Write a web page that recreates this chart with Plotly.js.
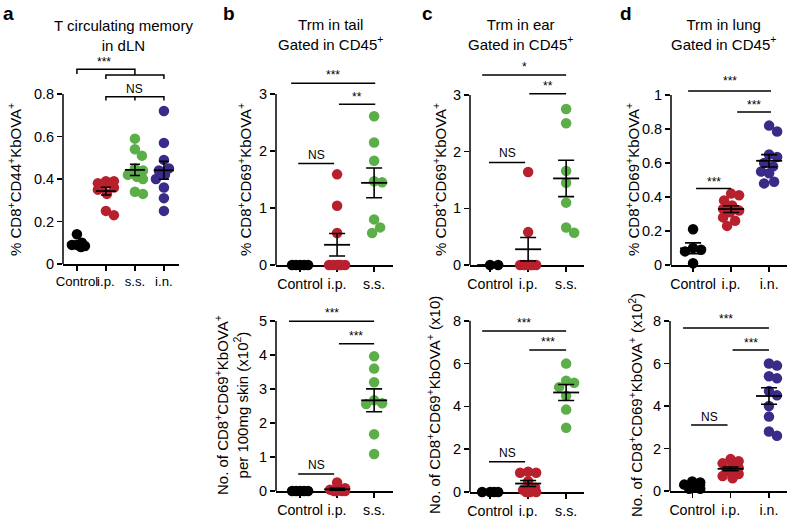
<!DOCTYPE html>
<html><head><meta charset="utf-8">
<script src="https://cdn.plot.ly/plotly-3.0.1.min.js"></script>
<style>html,body{margin:0;padding:0;background:#fff}#chart{width:788px;height:518px}</style>
</head><body><div id="chart"></div>
<script>
// ---------------- data ----------------
const catsA = ['Control', 'i.p.', 's.s.', 'i.n.'];
const catsB = ['Control', 'i.p.', 's.s.'];
const catsC = ['Control', 'i.p.', 's.s.'];
const catsD = ['Control', 'i.p.', 'i.n.'];

// a: T circulating memory in dLN (% CD8+CD44+KbOVA+)
const aControl = [0.09, 0.08, 0.09, 0.10, 0.085, 0.14];
const aIP = [0.39, 0.39, 0.38, 0.38, 0.37, 0.36, 0.35, 0.33, 0.25, 0.23];
const aSS = [0.59, 0.54, 0.51, 0.45, 0.44, 0.42, 0.41, 0.40, 0.34, 0.33];
const aIN = [0.72, 0.57, 0.49, 0.45, 0.44, 0.42, 0.40, 0.36, 0.31, 0.25];

// b: Trm in tail
const bPctControl = [0, 0, 0, 0, 0];
const bPctIP = [1.59, 1.04, 0.56, 0, 0, 0, 0, 0, 0];
const bPctSS = [2.61, 2.15, 1.83, 1.47, 1.45, 0.80, 0.66, 0.56];
const bNumControl = [0, 0, 0, 0, 0];
const bNumIP = [0.25, 0.08, 0.04, 0.02, 0, 0, 0, 0];
const bNumSS = [3.96, 3.60, 3.20, 2.67, 2.58, 2.56, 1.67, 1.09];

// c: Trm in ear
const cPctControl = [0, 0];
const cPctIP = [1.64, 0.58, 0, 0, 0, 0, 0, 0];
const cPctSS = [2.75, 2.50, 1.66, 1.45, 1.10, 0.66, 0.57];
const cNumControl = [0, 0, 0, 0];
const cNumIP = [0.95, 0.90, 0.90, 0.50, 0.20, 0.10, 0, 0, 0];
const cNumSS = [6.0, 5.2, 5.1, 4.9, 4.5, 3.85, 3.0];

// d: Trm in lung
const dPctControl = [0.21, 0.10, 0.09, 0.08, 0.01];
const dPctIP = [0.42, 0.41, 0.38, 0.35, 0.33, 0.32, 0.31, 0.28, 0.26, 0.23];
const dPctIN = [0.82, 0.785, 0.65, 0.635, 0.60, 0.58, 0.55, 0.54, 0.49, 0.48];
const dNumControl = [0.45, 0.40, 0.30, 0.20, 0.10, 0.10];
const dNumIP = [1.5, 1.4, 1.3, 1.2, 1.1, 1.0, 1.0, 0.9, 0.8, 0.7, 0.6];
const dNumIN = [6.0, 5.9, 5.4, 5.3, 4.7, 4.5, 4.0, 3.5, 2.8, 2.6];

// ---------------- styling / layout config ----------------
const W = 788, H = 518;
const FONT = 'Liberation Sans, Arial, Helvetica, sans-serif';
const COL = {'Control': '#000000', 'i.p.': '#b8202e', 's.s.': '#5bae48', 'i.n.': '#3b2a88'};
const DOT = 10.5;

const panels = [
  {cats: catsA, groups: [aControl, aIP, aSS, aIN], px: [63, 179], xr: [-0.48, 3.52], yb: 264, ppu: 212.5, yr: [0, 0.99],
   tv: [0, 0.2, 0.4, 0.6, 0.8], tt: ['0', '0.2', '0.4', '0.6', '0.8'], meanLen: 20, cap: 5, xfs: 13.2,
   lines: [[[0, 0.894], [0, 0.916], [2, 0.916], [2, 0.889]], [[1, 0.871], [1, 0.889], [3, 0.889], [3, 0.871]],
           [[1, 0.769], [1, 0.787], [3, 0.787], [3, 0.769]], [[2, 0.787], [2, 0.769]]],
   texts: [[0.95, 0.95, '***'], [2, 0.822, 'NS']]},
  {cats: catsB, groups: [bPctControl, bPctIP, bPctSS], px: [276, 393], xr: [-0.65, 2.51], yb: 265, ppu: 57, yr: [0, 3.55],
   tv: [0, 1, 2, 3], tt: ['0', '1', '2', '3'], meanLen: 26, cap: 8, xfs: 14.2,
   lines: [[[-0.24, 3.19], [2.03, 3.19]], [[1.05, 2.82], [2.03, 2.82]], [[-0.05, 1.78], [0.92, 1.78]]],
   texts: [[0.9, 3.33, '***'], [1.54, 2.95, '**'], [0.45, 1.93, 'NS']]},
  {cats: catsB, groups: [bNumControl, bNumIP, bNumSS], px: [276, 393], xr: [-0.65, 2.51], yb: 491, ppu: 34, yr: [0, 5.45],
   tv: [0, 1, 2, 3, 4, 5], tt: ['0', '1', '2', '3', '4', '5'], meanLen: 26, cap: 8, xfs: 14.2,
   lines: [[[-0.3, 4.99], [2.0, 4.99]], [[1.05, 4.33], [2.0, 4.33]], [[-0.05, 0.5], [0.92, 0.5]]],
   texts: [[0.85, 5.24, '***'], [1.52, 4.56, '***'], [0.45, 0.76, 'NS']]},
  {cats: catsC, groups: [cPctControl, cPctIP, cPctSS], px: [470, 584], xr: [-0.53, 2.47], yb: 265, ppu: 56.7, yr: [0, 3.62],
   tv: [0, 1, 2, 3], tt: ['0', '1', '2', '3'], meanLen: 26, cap: 8, xfs: 14.2,
   lines: [[[-0.21, 3.35], [2.0, 3.35]], [[1.03, 3.02], [2.0, 3.02]], [[-0.03, 1.81], [0.92, 1.81]]],
   texts: [[0.9, 3.49, '*'], [1.52, 3.15, '**'], [0.45, 1.98, 'NS']]},
  {cats: catsC, groups: [cNumControl, cNumIP, cNumSS], px: [470, 584], xr: [-0.53, 2.47], yb: 492, ppu: 21.4, yr: [0, 8.2],
   tv: [0, 2, 4, 6, 8], tt: ['0', '2', '4', '6', '8'], meanLen: 26, cap: 8, xfs: 14.2,
   lines: [[[-0.21, 7.52], [2.0, 7.52]], [[1.03, 6.63], [2.0, 6.63]], [[-0.03, 1.41], [0.92, 1.41]]],
   texts: [[0.9, 7.92, '***'], [1.52, 6.99, '***'], [0.45, 1.83, 'NS']]},
  {cats: catsD, groups: [dPctControl, dPctIP, dPctIN], px: [671, 787], xr: [-0.58, 2.47], yb: 265, ppu: 170, yr: [0, 1.13],
   tv: [0, 0.2, 0.4, 0.6, 0.8, 1], tt: ['0', '0.2', '0.4', '0.6', '0.8', '1'], meanLen: 26, cap: 8, xfs: 14.2,
   lines: [[[-0.13, 1.024], [2.05, 1.024]], [[1.16, 0.9], [2.05, 0.9]], [[0.08, 0.45], [1.0, 0.45]]],
   texts: [[0.96, 1.08, '***'], [1.6, 0.94, '***'], [0.54, 0.49, '***']]},
  {cats: catsD, groups: [dNumControl, dNumIP, dNumIN], px: [670, 787], xr: [-0.58, 2.47], yb: 491, ppu: 21.25, yr: [0, 8.35],
   tv: [0, 2, 4, 6, 8], tt: ['0', '2', '4', '6', '8'], meanLen: 26, cap: 8, xfs: 14.2,
   lines: [[[-0.24, 7.67], [2.0, 7.67]], [[1.05, 6.64], [2.0, 6.64]], [[-0.03, 3.1], [0.92, 3.1]]],
   texts: [[0.88, 8.08, '***'], [1.52, 6.98, '***'], [0.45, 3.5, 'NS']]}
];

// ---------------- helpers ----------------
function meanSem(v) {
  const n = v.length;
  const m = v.reduce((a, b) => a + b, 0) / n;
  const sd = Math.sqrt(v.reduce((a, b) => a + (b - m) * (b - m), 0) / (n - 1));
  return [m, sd / Math.sqrt(n)];
}
// deterministic beeswarm jitter (in pixels, converted to category units)
function swarm(vals, pxY, pxX, maxOff) {
  const order = vals.map((v, i) => i).sort((a, b) => vals[b] - vals[a]);
  const placed = [];
  const off = new Array(vals.length).fill(0);
  const cands = [0];
  for (let k = 1; k <= maxOff; k++) cands.push(k, -k);
  for (const i of order) {
    const y = vals[i] * pxY;
    let best = 0, bestScore = -1;
    for (const c of cands) {
      let md = Infinity;
      for (const p of placed) { const d = Math.hypot(c - p.x, y - p.y); if (d < md) md = d; }
      if (md >= DOT * 0.9) { best = c; break; }
      if (md > bestScore + 1e-9) { bestScore = md; best = c; }
    }
    placed.push({x: best, y});
    off[i] = best / pxX;
  }
  return off;
}

// ---------------- build figure ----------------
const traces = [];
const layout = {
  width: W, height: H, margin: {l: 0, r: 0, t: 0, b: 0},
  paper_bgcolor: '#fff', plot_bgcolor: 'rgba(0,0,0,0)',
  showlegend: false, font: {family: FONT, color: '#000', size: 14},
  shapes: [], annotations: []
};

panels.forEach((p, k) => {
  const s = k === 0 ? '' : String(k + 1);
  const xa = 'x' + s, ya = 'y' + s;
  const ytPx = p.yb - (p.yr[1] - p.yr[0]) * p.ppu;
  const pxX = (p.px[1] - p.px[0]) / (p.xr[1] - p.xr[0]);
  layout['xaxis' + s] = {
    domain: [p.px[0] / W, p.px[1] / W], range: p.xr, anchor: ya,
    tickmode: 'array', tickvals: p.cats.map((c, i) => i), ticktext: p.cats, tickangle: 0,
    showline: true, linecolor: '#000', linewidth: 1.5, ticks: 'outside', ticklen: 5, tickwidth: 1.5, tickcolor: '#000',
    showgrid: false, zeroline: false, layer: 'below traces', fixedrange: true,
    tickfont: {family: FONT, size: p.xfs, color: '#000'}
  };
  layout['yaxis' + s] = {
    domain: [1 - p.yb / H, 1 - ytPx / H], range: p.yr, anchor: xa,
    tickmode: 'array', tickvals: p.tv, ticktext: p.tt,
    showline: false, ticks: 'outside', ticklen: 5, tickwidth: 1.5, tickcolor: '#000',
    showgrid: false, zeroline: false, fixedrange: true,
    tickfont: {family: FONT, size: 14.5, color: '#000'}
  };
  // y axis line only up to the top tick
  layout.shapes.push({type: 'line', xref: xa + ' domain', yref: ya, x0: 0, x1: 0, y0: 0, y1: p.tv[p.tv.length - 1],
    line: {color: '#000', width: 1.5}});

  p.groups.forEach((v, i) => {
    const cat = p.cats[i];
    const offs = swarm(v, p.ppu, pxX, 8);
    traces.push({type: 'scatter', mode: 'markers', x: v.map((_, j) => i + offs[j]), y: v,
      xaxis: xa, yaxis: ya, cliponaxis: false, hoverinfo: 'skip',
      marker: {size: DOT, color: COL[cat], line: {width: 0}}});
  });
  p.groups.forEach((v, i) => {
    const [m, se] = meanSem(v);
    traces.push({type: 'scatter', mode: 'markers', x: [i], y: [m], xaxis: xa, yaxis: ya, cliponaxis: false, hoverinfo: 'skip',
      error_y: {type: 'data', array: [se], visible: true, color: '#000', thickness: 1.6, width: p.cap},
      marker: {symbol: 'line-ew', size: p.meanLen / 1.4, color: '#000', line: {color: '#000', width: 1.8}}});
  });

  p.lines.forEach(pts => {
    let path = 'M ' + pts.map(q => q[0] + ',' + q[1]).join(' L ');
    layout.shapes.push({type: 'path', xref: xa, yref: ya, path: path, line: {color: '#000', width: 1.5}});
  });
  p.texts.forEach(t => {
    layout.annotations.push({xref: xa, yref: ya, x: t[0], y: t[1], text: t[2], showarrow: false,
      xanchor: 'center', yanchor: 'middle', font: {family: FONT, size: 12, color: '#000'}});
  });
});

// panel letters, titles, y titles (paper coordinates from pixel positions)
function pa(x, y, text, opts) {
  layout.annotations.push(Object.assign({xref: 'paper', yref: 'paper', x: x / W, y: 1 - y / H, text: text,
    showarrow: false, xanchor: 'center', yanchor: 'middle', font: {family: FONT, size: 15, color: '#000'}}, opts || {}));
}
const letterFont = {family: FONT, size: 19, color: '#000', weight: 'bold'};
pa(1, 1, '<b>a</b>', {xanchor: 'left', yanchor: 'top', font: letterFont});
pa(221, 1, '<b>b</b>', {xanchor: 'left', yanchor: 'top', font: letterFont});
pa(420, 1, '<b>c</b>', {xanchor: 'left', yanchor: 'top', font: letterFont});
pa(618, 1, '<b>d</b>', {xanchor: 'left', yanchor: 'top', font: letterFont});

pa(123, 36, 'T circulating memory<br>in dLN');
pa(330, 35, 'Trm in tail<br>Gated in CD45<sup>+</sup>');
pa(520, 35, 'Trm in ear<br>Gated in CD45<sup>+</sup>');
pa(723, 35, 'Trm in lung<br>Gated in CD45<sup>+</sup>');

const yt = {textangle: -90};
pa(15, 180, '% CD8<sup>+</sup>CD44<sup>+</sup>KbOVA<sup>+</sup>', yt);
pa(245, 180, '% CD8<sup>+</sup>CD69<sup>+</sup>KbOVA<sup>+</sup>', yt);
pa(231, 405, 'No. of CD8<sup>+</sup>CD69<sup>+</sup>KbOVA<sup>+</sup><br>per 100mg skin (x10<sup>2</sup>)', yt);
pa(440, 180, '% CD8<sup>+</sup>CD69<sup>+</sup>KbOVA<sup>+</sup>', yt);
pa(433, 405, 'No. of CD8<sup>+</sup>CD69<sup>+</sup>KbOVA<sup>+</sup> (x10)', yt);
pa(633, 180, '% CD8<sup>+</sup>CD69<sup>+</sup>KbOVA<sup>+</sup>', yt);
pa(635, 405, 'No. of CD8<sup>+</sup>CD69<sup>+</sup>KbOVA<sup>+</sup> (x10<sup>2</sup>)', yt);

Plotly.newPlot('chart', traces, layout, {staticPlot: true, displayModeBar: false});
</script>
</body></html>
